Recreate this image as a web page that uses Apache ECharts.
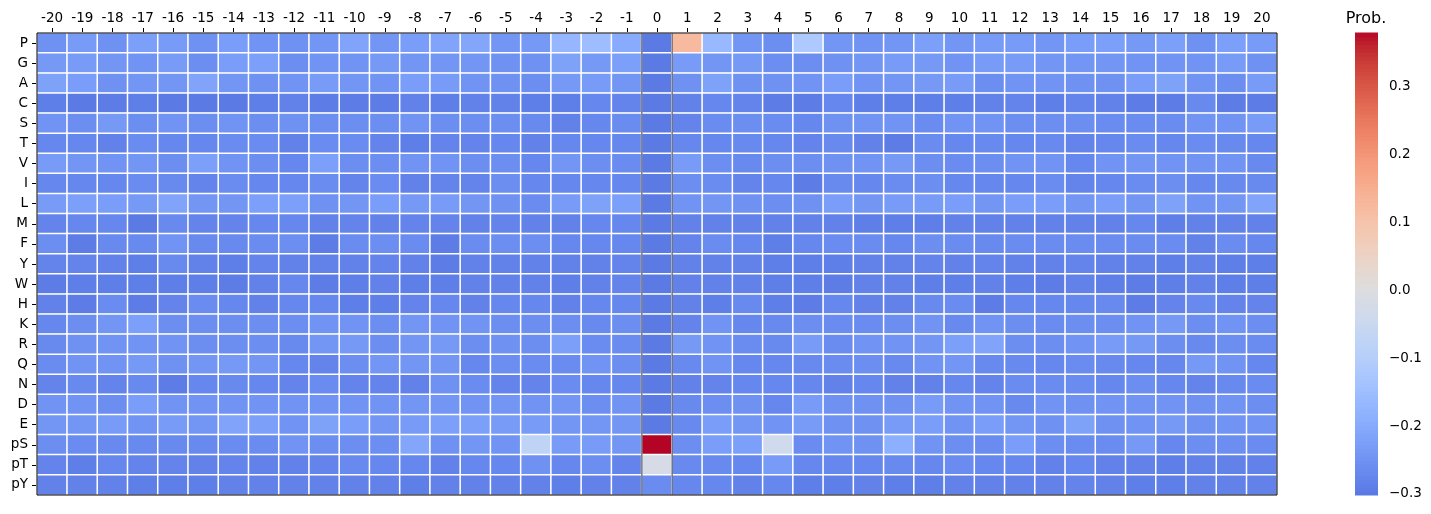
<!DOCTYPE html>
<html><head><meta charset="utf-8">
<script src="https://cdn.jsdelivr.net/npm/echarts@6/dist/echarts.min.js"></script>
<style>html,body{margin:0;padding:0;background:#fff}#c{width:1431px;height:514px}</style>
</head><body><div id="c"></div>
<script>
// ---- tick labels / categories ----
const cols = ['-20','-19','-18','-17','-16','-15','-14','-13','-12','-11','-10','-9','-8','-7','-6','-5','-4','-3','-2','-1','0','1','2','3','4','5','6','7','8','9','10','11','12','13','14','15','16','17','18','19','20'];
const rows = ['P','G','A','C','S','T','V','I','L','M','F','Y','W','H','K','R','Q','N','D','E','pS','pT','pY'];
const cbarTicks = [-0.3,-0.2,-0.1,0.0,0.1,0.2,0.3];
const markedCols = ['0'];

// ---- values per row (columns -20 .. 20) ----
const P  = [-0.255,-0.235,-0.255,-0.225,-0.235,-0.255,-0.23,-0.25,-0.255,-0.245,-0.215,-0.245,-0.23,-0.215,-0.21,-0.245,-0.24,-0.17,-0.155,-0.2,-0.30,0.12,-0.165,-0.245,-0.26,-0.12,-0.245,-0.25,-0.245,-0.225,-0.245,-0.235,-0.235,-0.245,-0.23,-0.225,-0.24,-0.225,-0.255,-0.225,-0.235];
const G  = [-0.24,-0.235,-0.245,-0.25,-0.235,-0.26,-0.23,-0.225,-0.26,-0.25,-0.25,-0.24,-0.245,-0.245,-0.245,-0.255,-0.255,-0.22,-0.24,-0.225,-0.30,-0.235,-0.245,-0.24,-0.26,-0.26,-0.255,-0.245,-0.235,-0.24,-0.25,-0.235,-0.235,-0.245,-0.245,-0.245,-0.25,-0.25,-0.25,-0.235,-0.255];
const A  = [-0.22,-0.23,-0.255,-0.245,-0.245,-0.215,-0.245,-0.255,-0.25,-0.235,-0.245,-0.25,-0.23,-0.235,-0.25,-0.255,-0.26,-0.24,-0.235,-0.245,-0.30,-0.255,-0.22,-0.255,-0.255,-0.25,-0.23,-0.25,-0.245,-0.24,-0.235,-0.26,-0.25,-0.25,-0.255,-0.255,-0.23,-0.22,-0.25,-0.26,-0.235];
const C  = [-0.29,-0.30,-0.295,-0.29,-0.30,-0.30,-0.30,-0.29,-0.285,-0.295,-0.295,-0.295,-0.285,-0.29,-0.285,-0.285,-0.29,-0.29,-0.275,-0.28,-0.30,-0.285,-0.275,-0.28,-0.295,-0.295,-0.275,-0.29,-0.29,-0.29,-0.29,-0.285,-0.28,-0.29,-0.28,-0.285,-0.295,-0.295,-0.27,-0.295,-0.295];
const S  = [-0.25,-0.26,-0.24,-0.26,-0.25,-0.26,-0.25,-0.26,-0.255,-0.26,-0.26,-0.26,-0.25,-0.26,-0.26,-0.26,-0.27,-0.285,-0.275,-0.265,-0.30,-0.28,-0.265,-0.26,-0.265,-0.275,-0.255,-0.25,-0.25,-0.265,-0.25,-0.25,-0.26,-0.26,-0.26,-0.265,-0.265,-0.265,-0.25,-0.25,-0.235];
const T  = [-0.275,-0.275,-0.285,-0.265,-0.275,-0.275,-0.265,-0.265,-0.285,-0.265,-0.265,-0.28,-0.29,-0.28,-0.28,-0.275,-0.285,-0.275,-0.275,-0.275,-0.30,-0.275,-0.275,-0.27,-0.275,-0.28,-0.27,-0.285,-0.295,-0.265,-0.275,-0.27,-0.275,-0.27,-0.28,-0.275,-0.265,-0.275,-0.265,-0.27,-0.275];
const V  = [-0.235,-0.245,-0.25,-0.245,-0.26,-0.225,-0.25,-0.26,-0.275,-0.225,-0.26,-0.26,-0.25,-0.25,-0.26,-0.26,-0.275,-0.245,-0.26,-0.265,-0.30,-0.235,-0.26,-0.27,-0.26,-0.26,-0.255,-0.25,-0.24,-0.26,-0.265,-0.26,-0.25,-0.25,-0.275,-0.25,-0.245,-0.25,-0.25,-0.25,-0.27];
const I  = [-0.275,-0.275,-0.275,-0.265,-0.27,-0.28,-0.265,-0.275,-0.275,-0.265,-0.28,-0.265,-0.285,-0.28,-0.28,-0.26,-0.275,-0.275,-0.275,-0.275,-0.30,-0.26,-0.265,-0.28,-0.275,-0.295,-0.27,-0.275,-0.265,-0.26,-0.275,-0.275,-0.275,-0.265,-0.28,-0.275,-0.265,-0.26,-0.275,-0.27,-0.27];
const L  = [-0.235,-0.225,-0.23,-0.24,-0.215,-0.245,-0.245,-0.225,-0.225,-0.255,-0.245,-0.23,-0.24,-0.235,-0.245,-0.255,-0.265,-0.235,-0.22,-0.225,-0.30,-0.25,-0.245,-0.255,-0.26,-0.255,-0.23,-0.245,-0.235,-0.235,-0.23,-0.245,-0.23,-0.23,-0.245,-0.23,-0.245,-0.22,-0.25,-0.245,-0.215];
const M  = [-0.28,-0.275,-0.275,-0.30,-0.27,-0.28,-0.28,-0.275,-0.275,-0.285,-0.28,-0.285,-0.28,-0.28,-0.285,-0.28,-0.285,-0.285,-0.275,-0.275,-0.30,-0.285,-0.285,-0.285,-0.285,-0.285,-0.285,-0.29,-0.29,-0.29,-0.285,-0.285,-0.285,-0.285,-0.285,-0.285,-0.275,-0.29,-0.285,-0.285,-0.285];
const F  = [-0.26,-0.295,-0.27,-0.27,-0.25,-0.27,-0.27,-0.265,-0.26,-0.295,-0.265,-0.26,-0.265,-0.295,-0.265,-0.26,-0.26,-0.275,-0.275,-0.275,-0.30,-0.28,-0.265,-0.275,-0.29,-0.275,-0.265,-0.265,-0.275,-0.26,-0.265,-0.27,-0.265,-0.265,-0.265,-0.265,-0.265,-0.265,-0.285,-0.265,-0.275];
const Y  = [-0.28,-0.28,-0.285,-0.29,-0.27,-0.285,-0.29,-0.28,-0.285,-0.285,-0.285,-0.28,-0.285,-0.295,-0.285,-0.285,-0.285,-0.285,-0.285,-0.28,-0.30,-0.285,-0.285,-0.285,-0.29,-0.29,-0.29,-0.285,-0.285,-0.28,-0.285,-0.28,-0.285,-0.285,-0.28,-0.285,-0.285,-0.29,-0.285,-0.29,-0.29];
const W  = [-0.295,-0.29,-0.29,-0.29,-0.29,-0.29,-0.295,-0.285,-0.275,-0.295,-0.29,-0.285,-0.29,-0.29,-0.285,-0.285,-0.285,-0.29,-0.285,-0.28,-0.30,-0.285,-0.285,-0.285,-0.29,-0.29,-0.295,-0.285,-0.285,-0.29,-0.29,-0.285,-0.29,-0.295,-0.285,-0.29,-0.295,-0.29,-0.285,-0.29,-0.29];
const H  = [-0.285,-0.295,-0.265,-0.295,-0.28,-0.265,-0.275,-0.285,-0.275,-0.275,-0.29,-0.29,-0.28,-0.275,-0.285,-0.275,-0.275,-0.285,-0.275,-0.275,-0.30,-0.285,-0.29,-0.27,-0.29,-0.295,-0.275,-0.285,-0.285,-0.27,-0.265,-0.295,-0.275,-0.275,-0.275,-0.27,-0.295,-0.28,-0.27,-0.28,-0.28];
const K  = [-0.275,-0.26,-0.245,-0.225,-0.26,-0.26,-0.26,-0.26,-0.26,-0.25,-0.25,-0.26,-0.245,-0.25,-0.25,-0.26,-0.26,-0.26,-0.27,-0.26,-0.30,-0.28,-0.25,-0.275,-0.27,-0.26,-0.265,-0.265,-0.26,-0.25,-0.27,-0.25,-0.26,-0.265,-0.26,-0.26,-0.25,-0.24,-0.26,-0.25,-0.26];
const R  = [-0.27,-0.255,-0.25,-0.25,-0.25,-0.26,-0.26,-0.26,-0.27,-0.245,-0.24,-0.26,-0.245,-0.24,-0.26,-0.255,-0.26,-0.225,-0.265,-0.265,-0.30,-0.24,-0.25,-0.265,-0.27,-0.235,-0.265,-0.25,-0.25,-0.245,-0.225,-0.215,-0.26,-0.26,-0.25,-0.235,-0.24,-0.26,-0.27,-0.26,-0.265];
const Q  = [-0.265,-0.25,-0.25,-0.24,-0.255,-0.245,-0.24,-0.245,-0.275,-0.28,-0.26,-0.245,-0.245,-0.245,-0.275,-0.26,-0.265,-0.265,-0.25,-0.26,-0.30,-0.27,-0.25,-0.275,-0.275,-0.27,-0.265,-0.26,-0.27,-0.25,-0.245,-0.27,-0.27,-0.275,-0.265,-0.27,-0.275,-0.275,-0.24,-0.25,-0.275];
const N  = [-0.28,-0.27,-0.28,-0.27,-0.295,-0.275,-0.27,-0.275,-0.28,-0.265,-0.28,-0.28,-0.285,-0.255,-0.265,-0.28,-0.28,-0.265,-0.275,-0.275,-0.30,-0.285,-0.28,-0.275,-0.275,-0.275,-0.285,-0.275,-0.285,-0.285,-0.275,-0.28,-0.265,-0.265,-0.265,-0.275,-0.26,-0.275,-0.28,-0.27,-0.265];
const D  = [-0.25,-0.25,-0.26,-0.23,-0.25,-0.25,-0.25,-0.25,-0.25,-0.25,-0.25,-0.25,-0.245,-0.245,-0.25,-0.245,-0.25,-0.245,-0.26,-0.25,-0.30,-0.27,-0.26,-0.255,-0.275,-0.235,-0.255,-0.255,-0.255,-0.235,-0.25,-0.25,-0.27,-0.25,-0.255,-0.25,-0.25,-0.25,-0.255,-0.25,-0.26];
const E  = [-0.245,-0.245,-0.235,-0.25,-0.235,-0.245,-0.215,-0.225,-0.25,-0.22,-0.23,-0.245,-0.235,-0.225,-0.225,-0.235,-0.235,-0.245,-0.245,-0.245,-0.30,-0.27,-0.23,-0.245,-0.25,-0.235,-0.255,-0.255,-0.235,-0.23,-0.25,-0.23,-0.245,-0.255,-0.22,-0.255,-0.25,-0.24,-0.255,-0.25,-0.25];
const pS = [-0.26,-0.265,-0.27,-0.27,-0.27,-0.27,-0.265,-0.265,-0.25,-0.26,-0.26,-0.26,-0.21,-0.255,-0.245,-0.25,-0.08,-0.235,-0.235,-0.245,0.379,-0.26,-0.23,-0.225,-0.04,-0.265,-0.25,-0.255,-0.19,-0.25,-0.26,-0.265,-0.23,-0.26,-0.265,-0.265,-0.24,-0.275,-0.26,-0.26,-0.265];
const pT = [-0.28,-0.29,-0.275,-0.28,-0.28,-0.285,-0.28,-0.285,-0.285,-0.28,-0.27,-0.275,-0.275,-0.285,-0.275,-0.275,-0.255,-0.275,-0.26,-0.28,-0.02,-0.27,-0.27,-0.275,-0.235,-0.275,-0.275,-0.275,-0.27,-0.275,-0.265,-0.275,-0.275,-0.285,-0.275,-0.285,-0.285,-0.29,-0.285,-0.285,-0.285];
const pY = [-0.285,-0.285,-0.285,-0.29,-0.29,-0.29,-0.285,-0.285,-0.285,-0.285,-0.285,-0.285,-0.29,-0.285,-0.285,-0.285,-0.285,-0.29,-0.285,-0.285,-0.265,-0.275,-0.275,-0.285,-0.275,-0.29,-0.29,-0.285,-0.29,-0.29,-0.285,-0.285,-0.285,-0.285,-0.28,-0.285,-0.29,-0.29,-0.285,-0.285,-0.285];

const matrix = [P,G,A,C,S,T,V,I,L,M,F,Y,W,H,K,R,Q,N,D,E,pS,pT,pY];

// ---- colour scale (coolwarm, centred at 0) ----
const VMIN = -0.3015, VMAX = 0.379;
const coolwarm = [[59,76,192],[68,90,204],[77,104,215],[87,117,225],[98,130,234],[108,142,241],[119,154,247],[130,165,251],[141,176,254],[152,185,255],[163,194,255],[174,201,253],[184,208,249],[194,213,244],[204,217,238],[213,219,230],[221,221,221],[229,216,209],[236,211,197],[241,204,184],[245,196,172],[247,187,160],[247,177,148],[247,166,135],[244,154,123],[241,141,111],[236,127,99],[229,112,88],[222,96,77],[213,80,66],[203,62,56],[192,40,47],[180,4,38]];
function cw(t){
  t = Math.max(0, Math.min(1, t));
  const f = t*(coolwarm.length-1); const i = Math.min(Math.floor(f), coolwarm.length-2); const r = f - i;
  const a = coolwarm[i], b = coolwarm[i+1];
  return 'rgb(' + a.map((v,k)=>Math.round(v + (b[k]-v)*r)).join(',') + ')';
}
const VR = Math.max(VMAX, -VMIN);
const NS = 120;
const scaleVals = [];
const scaleColors = [];
for (let k=0;k<=NS;k++){ const v = VMIN + (VMAX-VMIN)*k/NS; scaleVals.push(v); scaleColors.push(cw((v+VR)/(2*VR))); }
// colour-bar pieces: [lower value, upper value, index]
const cbarPieces = [];
for (let k=0;k<NS;k++) cbarPieces.push([scaleVals[k], scaleVals[k+1], k]);

const heatData = [];
matrix.forEach((row, r) => row.forEach((v, c) => heatData.push([c, r, v])));

const FONT = 'DejaVu Sans';
const FS = 13.5;
const chart = echarts.init(document.getElementById('c'), null, {renderer:'canvas'});
chart.setOption({
  animation: false,
  backgroundColor: '#fff',
  grid: [
    {left: 37, top: 33, width: 1240, height: 462, show: true, borderColor: '#000', borderWidth: 1, backgroundColor: 'transparent', z: 5},
    {left: 1355, top: 33, width: 23, height: 462}
  ],
  xAxis: [
    {type: 'category', gridIndex: 0, data: cols, position: 'top',
     axisLine: {show: true, lineStyle: {color: '#000', width: 1}},
     axisTick: {show: true, alignWithLabel: true, length: 5, inside: false, interval: 0, lineStyle: {color: '#000'}},
     axisLabel: {interval: 0, margin: 8, color: '#000', fontSize: FS, fontFamily: FONT},
     splitLine: {show: false}},
    {type: 'value', gridIndex: 1, min: 0, max: 1, show: false}
  ],
  yAxis: [
    {type: 'category', gridIndex: 0, data: rows, inverse: true,
     axisLine: {show: true, lineStyle: {color: '#000', width: 1}},
     axisTick: {show: true, alignWithLabel: true, length: 5, interval: 0, lineStyle: {color: '#000'}},
     axisLabel: {interval: 0, margin: 9, color: '#000', fontSize: FS, fontFamily: FONT},
     splitLine: {show: false}},
    {type: 'value', gridIndex: 1, min: VMIN, max: VMAX, position: 'right',
     axisLine: {show: false},
     axisTick: {show: true, length: 5, customValues: cbarTicks, lineStyle: {color: '#000'}},
     axisLabel: {customValues: cbarTicks, margin: 11, color: '#000', fontSize: FS, fontFamily: FONT,
       formatter: v => (Math.abs(v) < 1e-9 ? 0 : v).toFixed(1).replace('-', '\u2212')},
     splitLine: {show: false}}
  ],
  visualMap: {
    show: false, type: 'continuous', seriesIndex: 0, dimension: 2,
    min: VMIN, max: VMAX, inRange: {color: scaleColors}
  },
  graphic: [{
    type: 'text', x: 1366, y: 19,
    style: {text: 'Prob.', textAlign: 'center', textVerticalAlign: 'middle', font: '16px "DejaVu Sans"', fill: '#000'}
  }],
  series: [
    {type: 'heatmap', xAxisIndex: 0, yAxisIndex: 0, data: heatData,
     itemStyle: {borderColor: '#fff', borderWidth: 1.5},
     emphasis: {disabled: true}, progressive: 0},
    {type: 'custom', xAxisIndex: 0, yAxisIndex: 0, z: 10, silent: true,
     data: markedCols.map(c => [cols.indexOf(c), 0]),
     renderItem: (params, api) => {
       const xi = api.value(0);
       const top = api.coord([xi, 0]);
       const bot = api.coord([xi, rows.length - 1]);
       const sz = api.size([1, 1]);
       const x0 = top[0] - sz[0]/2, x1 = top[0] + sz[0]/2;
       const y0 = top[1] - sz[1]/2, y1 = bot[1] + sz[1]/2;
       return {type: 'group', children: [
         {type: 'line', shape: {x1: x0, y1: y0, x2: x0, y2: y1}, style: {stroke: '#3a3a3a', lineWidth: 1}},
         {type: 'line', shape: {x1: x1, y1: y0, x2: x1, y2: y1}, style: {stroke: '#3a3a3a', lineWidth: 1}}
       ]};
     }},
    {type: 'custom', xAxisIndex: 1, yAxisIndex: 1, silent: true,
     dimensions: ['lo', 'hi', 'idx'],
     encode: {y: [0, 1]},
     data: cbarPieces,
     renderItem: (params, api) => {
       const lo = api.value(0), hi = api.value(1), k = api.value(2);
       const p0 = api.coord([0, lo]);
       const p1 = api.coord([1, hi]);
       return {type: 'rect',
         shape: {x: p0[0], y: p1[1] - 0.5, width: p1[0] - p0[0], height: p0[1] - p1[1] + 1},
         style: {fill: scaleColors[k]}};
     }}
  ]
});
</script>
</body></html>
